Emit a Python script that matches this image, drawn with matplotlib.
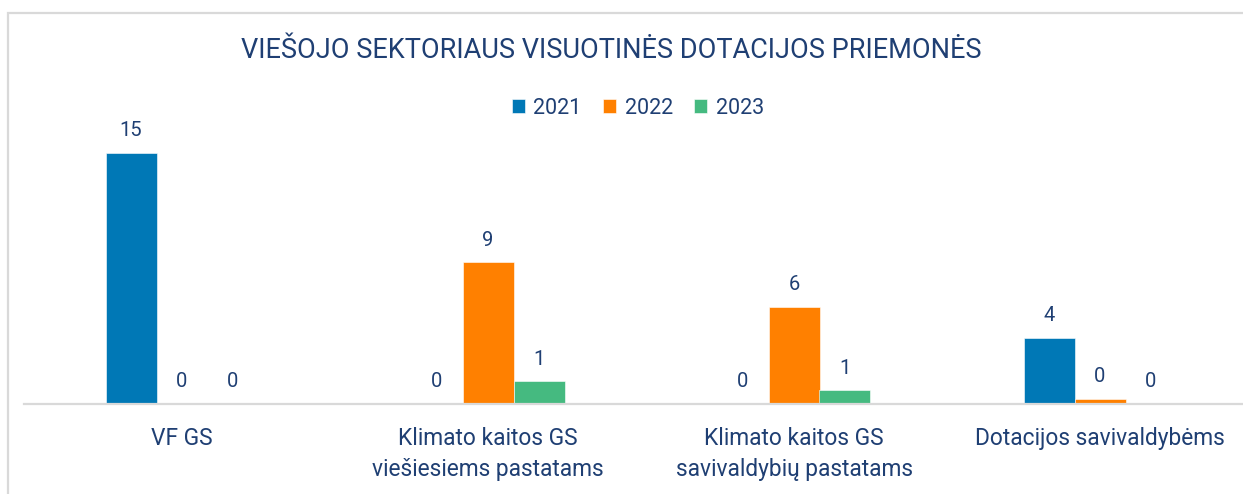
import matplotlib
matplotlib.use("Agg")
import matplotlib.pyplot as plt
from matplotlib.patches import Rectangle
import numpy as np

categories = ["VF GS", "Klimato kaitos GS\nviešiesiems pastatams",
              "Klimato kaitos GS\nsavivaldybių pastatams", "Dotacijos savivaldybėms"]
years = ["2021", "2022", "2023"]
v2021 = [15.3, 0.0, 0.0, 4.0]
v2022 = [0.0, 8.6, 5.9, 0.3]
v2023 = [0.0, 1.35, 0.8, 0.0]
colors = ["#0078B6", "#FF8000", "#45BA80"]
title = "VIEŠOJO SEKTORIAUS VISUOTINĖS DOTACIJOS PRIEMONĖS"

plt.rcParams['font.family'] = ['Roboto', 'DejaVu Sans']
txt = "#1F3F73"

W, H = 1243, 494
fig = plt.figure(figsize=(W/100, H/100), dpi=100)

# frame
fig.patches.append(Rectangle((8/W, -0.1), 1.2, 1 - 13/H + 0.1, transform=fig.transFigure,
                             fill=False, edgecolor="#D9D9D9", linewidth=1.6))

px_per_unit = 16.4
ymax = 17.0
base_y = 403.5
top_y = base_y - ymax * px_per_unit
ax = fig.add_axes([24/W, 1 - base_y/H, (W - 24)/W, (base_y - top_y)/H])
ax.set_ylim(0, ymax)
ax.set_xlim(-(182 - 24)/306, (W - 182)/306)

x = np.arange(len(categories))
bw = 51/306
series = [v2021, v2022, v2023]
for i, (vals, c, yr) in enumerate(zip(series, colors, years)):
    pos = x + (i - 1) * bw
    bars = ax.bar(pos, vals, width=bw, color=c, label=yr, edgecolor="white", linewidth=0.4)
    for xp, v in zip(pos, vals):
        ax.annotate(f"{v:.0f}", (xp, v), xytext=(0, 9), textcoords="offset points",
                    ha="center", va="bottom", fontsize=14.5, color=txt)

for s in ["top", "right", "left"]:
    ax.spines[s].set_visible(False)
ax.spines["bottom"].set_color("#D9D9D9")
ax.spines["bottom"].set_linewidth(1.6)
ax.set_yticks([])
ax.set_xticks(x)
ax.set_xticklabels(categories, fontsize=16.4, color=txt, linespacing=1.42)
ax.tick_params(axis="x", length=0, pad=17)

fig.text(611/W, 1 - 50/H, title, ha="center", va="center", fontsize=19.5, color=txt)
leg = fig.legend(loc="center", bbox_to_anchor=(638/W, 1 - 108/H), ncol=3, frameon=False,
                 fontsize=15.5, handlelength=0.6, handleheight=0.6, handletextpad=0.4,
                 columnspacing=1.0, labelcolor=txt)

fig.savefig("out.png", dpi=100, facecolor="white")
